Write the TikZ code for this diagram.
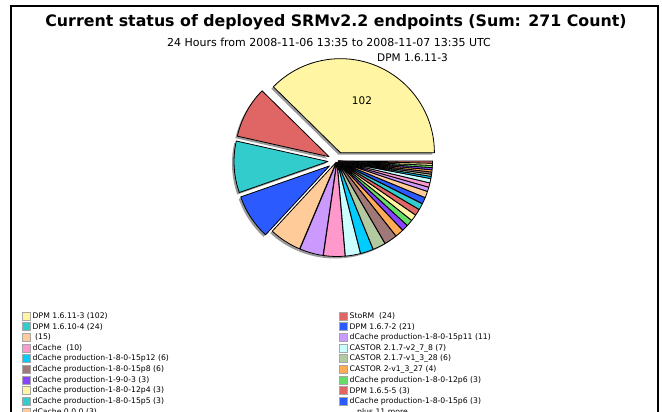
\documentclass[tikz,border=0pt]{standalone}
\usepackage{fontspec}
\setmainfont{DejaVu Sans}
\definecolor{cyel}{HTML}{FFF5A3}
\definecolor{cred}{HTML}{E06666}
\definecolor{cteal}{HTML}{33CCCC}
\definecolor{cblue}{HTML}{2B5BFF}
\definecolor{cpeach}{HTML}{FFCC99}
\definecolor{clav}{HTML}{CC99FF}
\definecolor{cpink}{HTML}{FF99CC}
\definecolor{clcyan}{HTML}{CCFFFF}
\definecolor{ccyan}{HTML}{00CCFF}
\definecolor{cgg}{HTML}{B3C9A0}
\definecolor{cbrown}{HTML}{A07878}
\definecolor{corange}{HTML}{FFAA55}
\definecolor{cviolet}{HTML}{8844FF}
\definecolor{cgreen}{HTML}{66DD66}
\tikzset{
  slice/.style={draw=black, line width=0.8pt, line join=round},
  sliceshadow/.style={fill=black, fill opacity=0.4},
  legtext/.style={anchor=west, inner sep=0pt, font=\fontsize{7.7}{9}\selectfont},
  legbox/.style={draw=black!35, line width=0.4pt},
  frame/.style={line width=2pt}
}
\begin{document}
\begin{tikzpicture}[x=1pt,y=1pt]
\useasboundingbox (0,0) rectangle (662,412);
\clip (0,0) rectangle (662,412);
\fill[white] (0,0) rectangle (662,412);
\draw[frame] (11,-5) -- (11,406) -- (658,406) -- (658,-5);
% titles
\node[font=\bfseries\fontsize{15.8}{18}\selectfont] (title) at (336,390) {Current status of deployed SRMv2.2 endpoints (Sum: 271 Count)};
\node[font=\fontsize{11}{13}\selectfont] (subtitle) at (329,370) {24 Hours from 2008-11-06 13:35 to 2008-11-07 13:35 UTC};
% pie
\coordinate (C) at (337,251);
\def\R{94}
\def\slices{0/135.50/cyel/9, 135.50/167.38/cred/9, 167.38/199.26/cteal/9, 199.26/227.16/cblue/9,
  227.16/247.08/cpeach/1.5, 247.08/261.70/clav/1.5, 261.70/274.98/cpink/1.5, 274.98/284.28/clcyan/1.5,
  284.28/292.25/ccyan/1.5, 292.25/300.22/cgg/1.5, 300.22/308.19/cbrown/1.5, 308.19/313.51/corange/1.5,
  313.51/317.49/cviolet/1.5, 317.49/321.48/cgreen/1.5, 321.48/325.46/cyel/1.5, 325.46/329.45/cred/1.5,
  329.45/333.43/cteal/1.5, 333.43/337.42/cblue/1.5, 337.42/341.40/cpeach/1.5, 341.40/344.06/clav/1.5,
  344.06/346.72/cpink/1.5, 346.72/349.37/clcyan/1.5, 349.37/350.70/ccyan/1.5, 350.70/352.03/cgg/1.5,
  352.03/353.36/cbrown/1.5, 353.36/354.69/corange/1.5, 354.69/356.01/cviolet/1.5, 356.01/357.34/cgreen/1.5,
  357.34/358.67/cyel/1.5, 358.67/360/cred/1.5}
\foreach \s/\t/\col/\e in \slices {
  \pgfmathsetmacro\m{(\s+\t)/2}
  \begin{scope}[shift={(C)}, shift={(\m:\e)}, shift={(-2,-2)}]
    \fill[sliceshadow] (0,0) -- (\s:\R) arc[start angle=\s, end angle=\t, radius=\R] -- cycle;
  \end{scope}
}
\foreach \s/\t/\col/\e in \slices {
  \pgfmathsetmacro\m{(\s+\t)/2}
  \begin{scope}[shift={(C)}, shift={(\m:\e)}]
    \filldraw[slice, fill=\col] (0,0) -- (\s:\R) arc[start angle=\s, end angle=\t, radius=\R] -- cycle;
  \end{scope}
}
\node[font=\fontsize{10.5}{12}\selectfont] (pct) at (362,311) {102};
\node[font=\fontsize{10.5}{12}\selectfont, anchor=west, inner sep=0pt] (lab) at (377,354) {DPM 1.6.11-3};
% legend left
\foreach \y/\col/\txt [count=\i] in {
  96/cyel/{DPM 1.6.11-3 (102)},
  85.3/cteal/{DPM 1.6.10-4 (24)},
  74.7/cpeach/{~(15)},
  64/cpink/{dCache~~(10)},
  53.3/ccyan/{dCache production-1-8-0-15p12 (6)},
  42.7/cbrown/{dCache production-1-8-0-15p8 (6)},
  32/cviolet/{dCache production-1-9-0-3 (3)},
  21.3/cyel/{dCache production-1-8-0-12p4 (3)},
  10.7/cteal/{dCache production-1-8-0-15p5 (3)},
  0/cpeach/{dCache 0.0.0 (3)}} {
  \filldraw[legbox, fill=\col] (22,\y-4) rectangle (30,\y+4);
  \node[legtext] (ll\i) at (32.5,\y) {\txt};
}
% legend right
\foreach \y/\col/\txt [count=\i] in {
  96/cred/{StoRM~~(24)},
  85.3/cblue/{DPM 1.6.7-2 (21)},
  74.7/clav/{dCache production-1-8-0-15p11 (11)},
  64/clcyan/{CASTOR 2.1.7-v2\_7\_8 (7)},
  53.3/cgg/{CASTOR 2.1.7-v1\_3\_28 (6)},
  42.7/corange/{CASTOR 2-v1\_3\_27 (4)},
  32/cgreen/{dCache production-1-8-0-12p6 (3)},
  21.3/cred/{DPM 1.6.5-5 (3)},
  10.7/cblue/{dCache production-1-8-0-15p6 (3)}} {
  \filldraw[legbox, fill=\col] (339.5,\y-4) rectangle (347,\y+4);
  \node[legtext] (lr\i) at (349.5,\y) {\txt};
}
\node[legtext] (more) at (357,0) {plus 11 more};
\end{tikzpicture}
\end{document}
